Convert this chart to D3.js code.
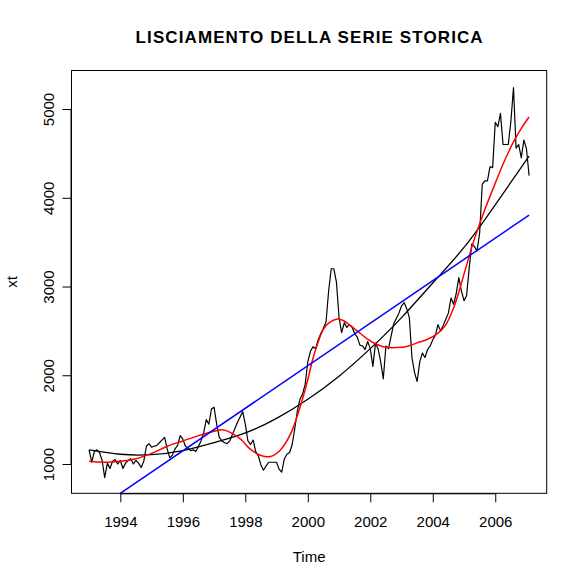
<!DOCTYPE html>
<html>
<head>
<meta charset="utf-8">
<script src="https://cdn.jsdelivr.net/npm/d3@7/dist/d3.min.js"></script>
<style>
  html, body { margin: 0; padding: 0; background: #fff; }
  svg { display: block; }
  text { font-family: "Liberation Sans", Arial, sans-serif; fill: #000; }
</style>
</head>
<body>
<svg id="chart" width="584" height="584"></svg>
<script>
// ---- DATA ----
const startYear = 1993;
const frequency = 12;
const xt = [
  1160,1020,1140,1160,1130,1040,845,1010,950,1030,1050,1000,
  1040,950,1010,1040,1060,1000,1040,1010,960,1030,1200,1230,
  1190,1200,1210,1240,1270,1300,1170,1070,1100,1170,1210,1320,
  1280,1200,1180,1150,1160,1140,1200,1260,1350,1500,1450,1620,
  1640,1450,1300,1260,1240,1230,1260,1330,1400,1470,1530,1590,
  1450,1260,1220,1270,1140,1090,990,930,980,1020,1020,1020,
  1020,940,910,1060,1110,1130,1220,1400,1600,1730,1790,1900,
  2150,2270,2320,2300,2400,2470,2530,2600,2950,3200,3200,3050,
  2650,2480,2590,2540,2570,2540,2470,2430,2340,2330,2290,2380,
  2300,2100,2360,2300,2150,1960,2330,2300,2440,2580,2640,2700,
  2780,2820,2750,2650,2200,2030,1930,2150,2250,2200,2290,2330,
  2400,2450,2570,2500,2560,2630,2700,2870,2800,2920,3100,2950,
  2840,2900,3210,3480,3450,3400,3600,4150,4190,4190,4350,4340,
  4850,4800,4950,4600,4600,4600,4860,5240,4560,4600,4450,4650,
  4550,4250
];
// red smoother (time, value)
const smoothT = [1993.0,1993.5,1994.0,1994.5,1995.0,1995.5,1996.0,1996.5,1997.0,1997.25,1997.5,1997.85,1998.15,1998.5,1998.8,1999.1,1999.45,1999.75,2000.0,2000.15,2000.3,2000.5,2000.7,2000.95,2001.15,2001.4,2001.65,2001.9,2002.2,2002.5,2002.85,2003.2,2003.5,2003.8,2004.15,2004.4,2004.7,2005.0,2005.3,2005.65,2005.95,2006.3,2006.6,2006.85,2007.083];
const smoothV = [1030,1020,1030,1060,1120,1200,1260,1320,1370,1385,1360,1280,1170,1095,1084,1150,1340,1640,1950,2170,2340,2520,2595,2633,2614,2550,2480,2410,2350,2315,2312,2328,2365,2400,2470,2560,2790,3140,3500,3850,4120,4420,4640,4790,4910];
// black quadratic trend (time, value)
const quadT = [1993,1994,1995,1996,1997,1998,1999,2000,2001,2002,2003,2004,2005,2006,2007.083];
const quadV = [1160,1110,1105,1150,1240,1350,1515,1730,1990,2300,2650,3040,3440,3920,4470];
// blue linear trend (time, value)
const linT = [1993.0, 2007.083];
const linV = [430, 3805];
// axis ticks
const xTicks = [1994,1996,1998,2000,2002,2004,2006];
const yTicks = [1000,2000,3000,4000,5000];
const yDomain = [670, 5434];
const titleText = "LISCIAMENTO DELLA SERIE STORICA";
const xLabel = "Time";
const yLabel = "xt";

// ---- LAYOUT ----
const L = 71.5, R = 546.7, T = 70.5, B = 493.3;
const svg = d3.select("#chart");

const times = xt.map((v, i) => startYear + i / frequency);
const tMin = d3.min(times), tMax = d3.max(times);
const pad = (tMax - tMin) * 0.04;
const x = d3.scaleLinear().domain([tMin - pad, tMax + pad]).range([L, R]);
const y = d3.scaleLinear().domain(yDomain).range([B, T]);

svg.append("defs").append("clipPath").attr("id", "clip")
  .append("rect").attr("x", L).attr("y", T).attr("width", R - L).attr("height", B - T);

const g = svg.append("g").attr("clip-path", "url(#clip)");

const line = d3.line().x(d => x(d[0])).y(d => y(d[1]));

// series
g.append("path")
  .datum(xt.map((v, i) => [times[i], v]))
  .attr("d", line)
  .attr("fill", "none").attr("stroke", "#000").attr("stroke-width", 1.2)
  .attr("stroke-linejoin", "round");

// quadratic trend
g.append("path")
  .datum(quadT.map((t, i) => [t, quadV[i]]))
  .attr("d", d3.line().x(d => x(d[0])).y(d => y(d[1])).curve(d3.curveNatural))
  .attr("fill", "none").attr("stroke", "#000").attr("stroke-width", 1.3);

// smoother
g.append("path")
  .datum(smoothT.map((t, i) => [t, smoothV[i]]))
  .attr("d", d3.line().x(d => x(d[0])).y(d => y(d[1])).curve(d3.curveCatmullRom))
  .attr("fill", "none").attr("stroke", "#ff0000").attr("stroke-width", 1.5);

// linear trend
g.append("path")
  .datum(linT.map((t, i) => [t, linV[i]]))
  .attr("d", d3.line().x(d => x(d[0])).y(d => y(d[1])))
  .attr("fill", "none").attr("stroke", "#0000ff").attr("stroke-width", 1.5);

// box
svg.append("rect").attr("x", L).attr("y", T).attr("width", R - L).attr("height", B - T)
  .attr("fill", "none").attr("stroke", "#000").attr("stroke-width", 1);

// x axis
const xAxisG = svg.append("g").attr("transform", `translate(0,${B})`)
  .call(d3.axisBottom(x).tickValues(xTicks).tickFormat(d3.format("d")).tickSize(9).tickPadding(0));
xAxisG.select(".domain").attr("d", `M${x(xTicks[0])},0.5H${x(xTicks[xTicks.length-1])}`).attr("stroke", "#000");
xAxisG.selectAll(".tick line").attr("stroke", "#000");
xAxisG.selectAll(".tick text").attr("font-size", 15).attr("dy", null).attr("y", 34)
  .style("font-family", "'Liberation Sans', Arial, sans-serif").attr("fill", "#000");

// y axis
const yAxisG = svg.append("g").attr("transform", `translate(${L},0)`)
  .call(d3.axisLeft(y).tickValues(yTicks).tickFormat(d3.format("d")).tickSize(9));
yAxisG.select(".domain").attr("d", `M-0.5,${y(yTicks[0])}V${y(yTicks[yTicks.length-1])}`).attr("stroke", "#000");
yAxisG.selectAll(".tick line").attr("stroke", "#000");
yAxisG.selectAll(".tick text").remove();
yAxisG.selectAll(".tick").append("text")
  .attr("transform", "translate(-18,0) rotate(-90)")
  .attr("text-anchor", "middle")
  .attr("font-size", 15)
  .style("font-family", "'Liberation Sans', Arial, sans-serif")
  .attr("fill", "#000")
  .text(d => d);

// title
svg.append("text").attr("x", (L + R) / 2).attr("y", 43.3)
  .attr("text-anchor", "middle").attr("font-size", 17).attr("font-weight", "bold")
  .attr("textLength", 347).attr("lengthAdjust", "spacing")
  .text(titleText);

// axis labels
svg.append("text").attr("x", (L + R) / 2).attr("y", 562)
  .attr("text-anchor", "middle").attr("font-size", 15).text(xLabel);
svg.append("text").attr("transform", `translate(16.7,${(T + B) / 2}) rotate(-90)`)
  .attr("text-anchor", "middle").attr("font-size", 15).text(yLabel);
</script>
</body>
</html>
